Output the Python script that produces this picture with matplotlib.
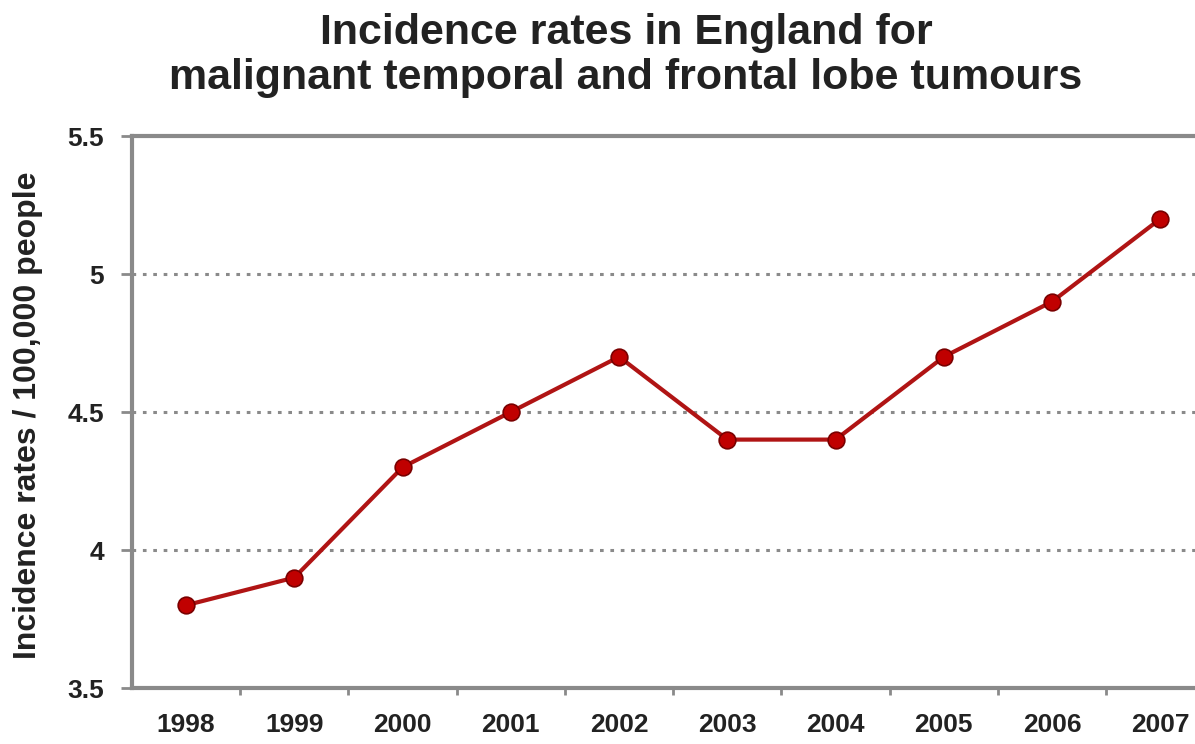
import matplotlib.pyplot as plt

# Incidence rates per 100,000 people, by year
years = ['1998', '1999', '2000', '2001', '2002', '2003', '2004', '2005', '2006', '2007']
rates = [3.8, 3.9, 4.3, 4.5, 4.7, 4.4, 4.4, 4.7, 4.9, 5.2]
y_ticks = [3.5, 4, 4.5, 5, 5.5]
y_tick_labels = ['3.5', '4', '4.5', '5', '5.5']

plt.rcParams['font.family'] = ['Liberation Sans', 'DejaVu Sans']

fig = plt.figure(figsize=(11.95, 7.44), dpi=100)
ax = fig.add_axes([132 / 1195, 1 - 688 / 744, (1195 - 132) / 1195, (688 - 136) / 744])

x = list(range(len(years)))
ax.plot(x, rates, color='#b01414', linewidth=3, marker='o', markersize=12,
        markerfacecolor='#c00000', markeredgecolor='#7a0000', markeredgewidth=1.2,
        zorder=3)

ax.set_ylim(3.5, 5.5)
ax.set_xlim(-0.5, 9.32)

# dotted horizontal gridlines, solid line on top
for v in [4, 4.5, 5]:
    ax.axhline(v, color='#8a8a8a', linestyle=(0, (1.2, 2.2)), linewidth=2.2, zorder=1)
ax.axhline(5.5, color='#8a8a8a', linewidth=3, zorder=1, clip_on=False)

for side in ['top', 'right']:
    ax.spines[side].set_visible(False)
for side in ['left', 'bottom']:
    ax.spines[side].set_color('#8a8a8a')
    ax.spines[side].set_linewidth(3)

ax.set_yticks(y_ticks)
ax.set_yticklabels(y_tick_labels)
ax.set_xticks(x)
ax.set_xticklabels(years)
ax.tick_params(axis='x', length=0, pad=18, labelsize=19)
ax.tick_params(axis='y', length=8, width=2, color='#8a8a8a', pad=12, labelsize=19)
ax.set_xticks([i + 0.5 for i in range(len(years) - 1)], minor=True)
ax.tick_params(axis='x', which='minor', length=5, width=2, color='#8a8a8a', direction='out')
for lbl in ax.get_xticklabels() + ax.get_yticklabels():
    lbl.set_fontweight('bold')
    lbl.set_color('#222222')

fig.text(28 / 1195, 1 - 415 / 744, 'Incidence rates / 100,000 people', rotation=90,
         ha='center', va='center', fontsize=23, fontweight='bold', color='#222222')

fig.text(626 / 1195, 1 - 33 / 744, 'Incidence rates in England for', ha='center', va='center',
         fontsize=31, fontweight='bold', color='#222222')
fig.text(626 / 1195, 1 - 78 / 744, 'malignant temporal and frontal lobe tumours', ha='center',
         va='center', fontsize=31, fontweight='bold', color='#222222')

fig.savefig('out.png', dpi=100)
